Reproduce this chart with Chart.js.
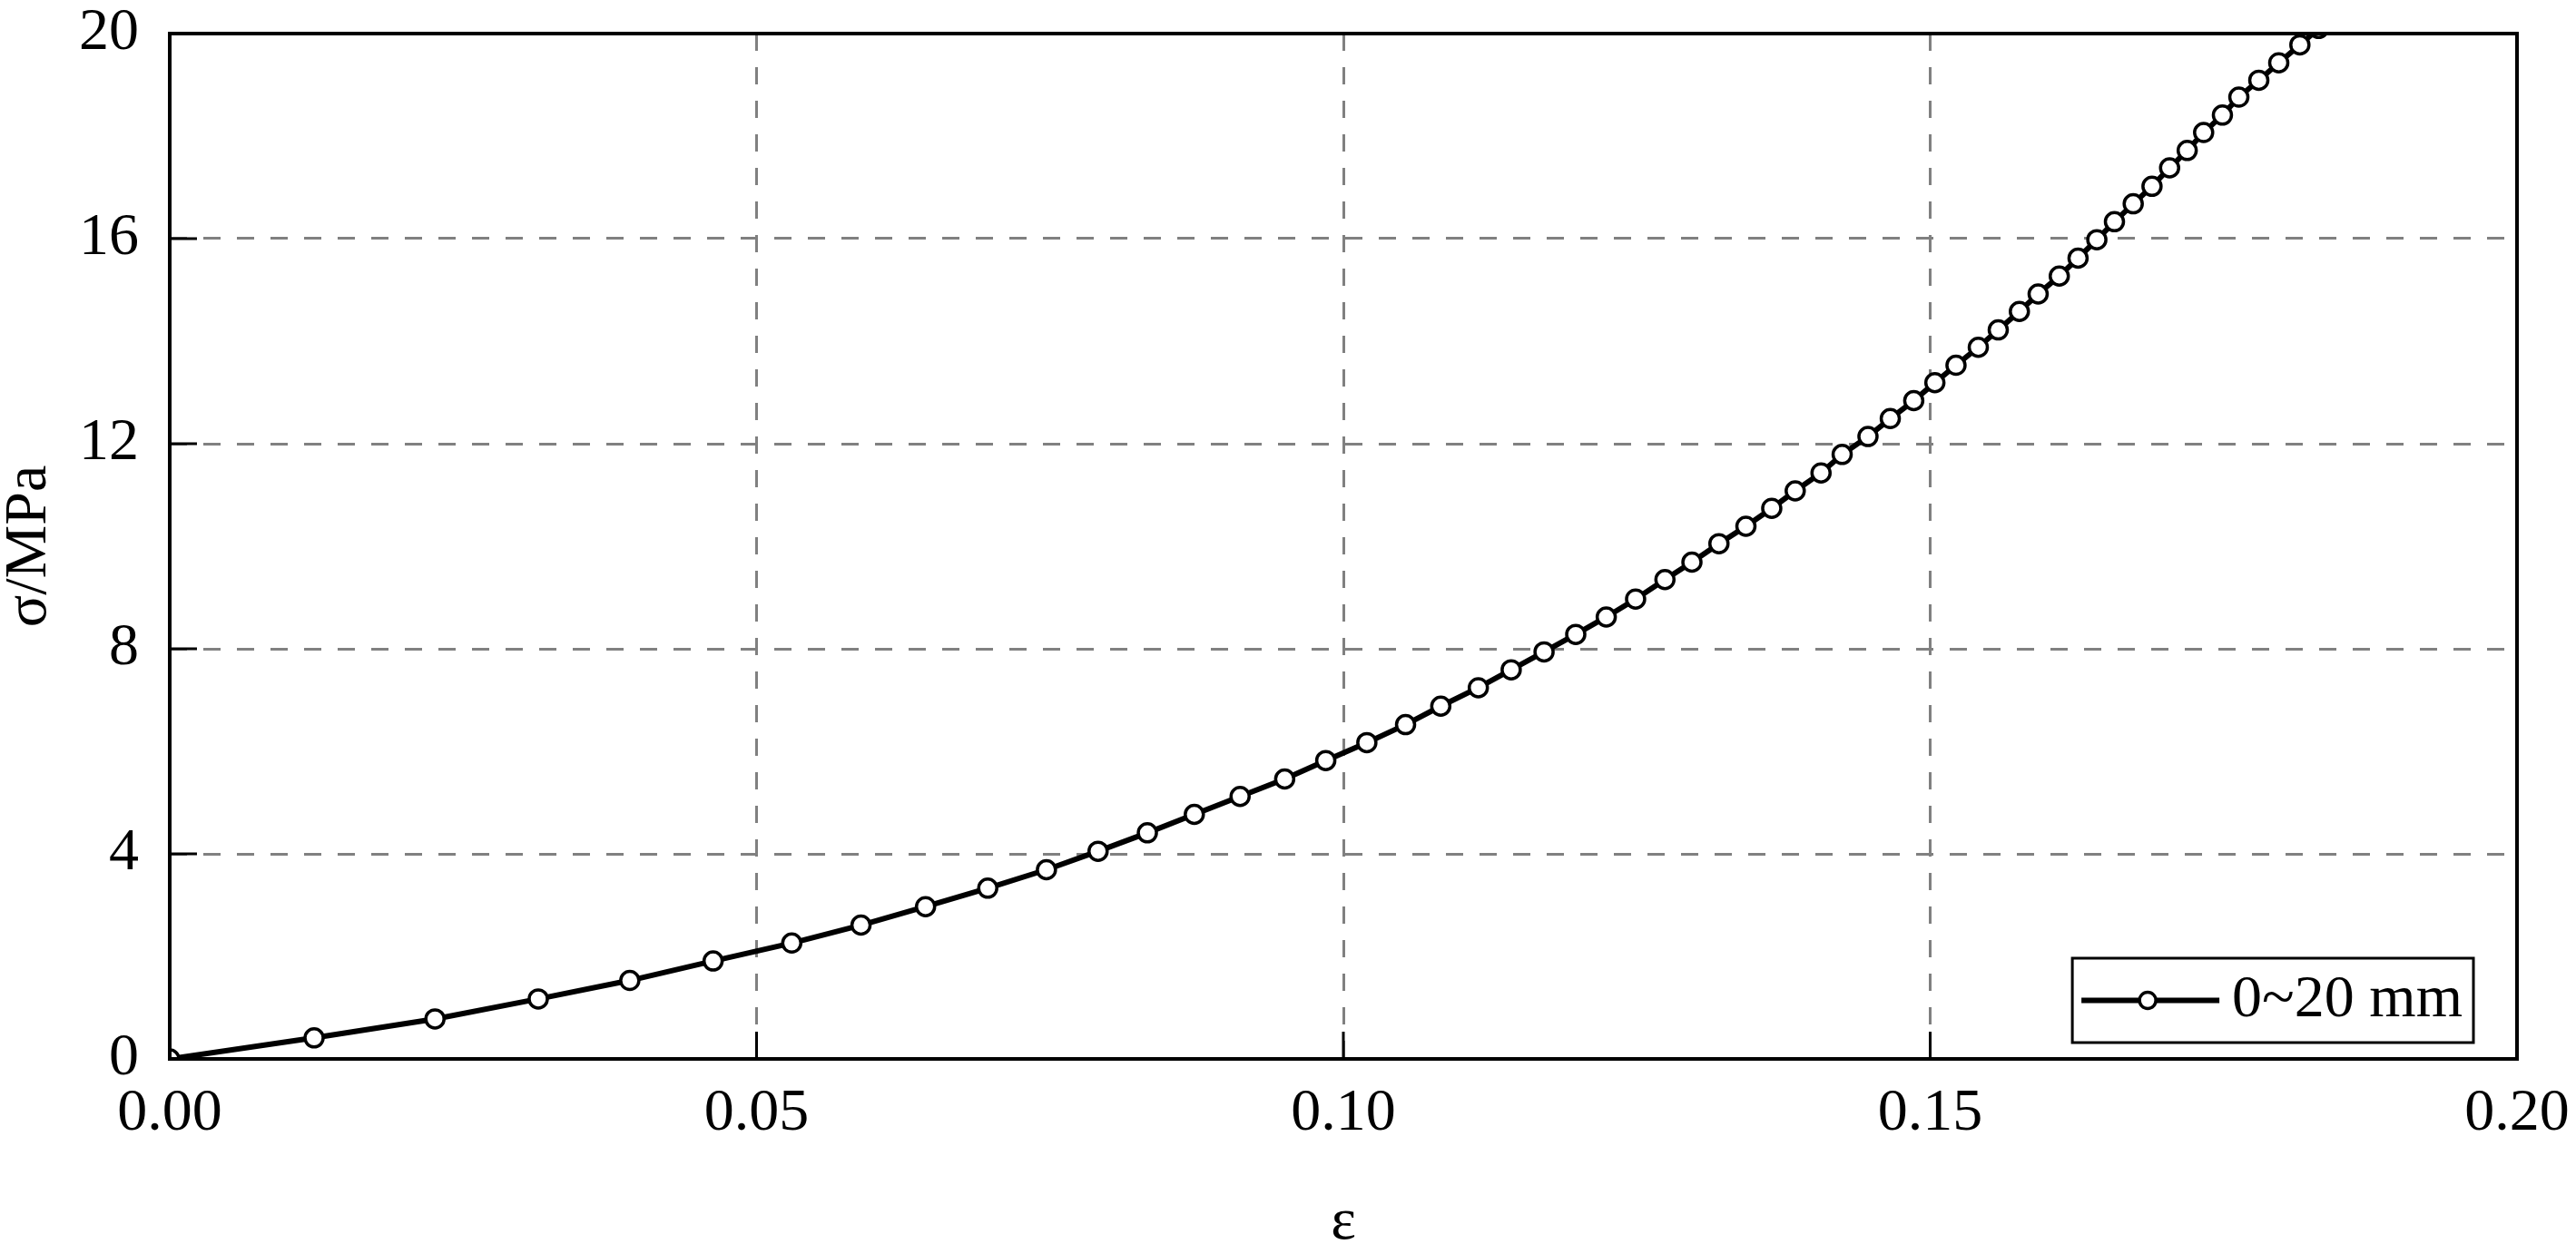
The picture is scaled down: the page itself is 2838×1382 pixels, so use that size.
<!DOCTYPE html>
<html>
<head>
<meta charset="utf-8">
<script src="https://cdn.jsdelivr.net/npm/chart.js@4.4.1/dist/chart.umd.min.js"></script>
<style>
  html, body { margin: 0; padding: 0; background: #fff; }
  #wrap { width: 2838px; height: 1382px; }
</style>
</head>
<body>
<div id="wrap"><canvas id="chart" width="2838" height="1382"></canvas></div>
<script>
// strain (ε) and stress (σ, MPa)
const strain = [0, 0.0123, 0.0226, 0.0314, 0.0392, 0.0463, 0.0530, 0.0589, 0.0644, 0.0697,
    0.0747, 0.0791, 0.0833, 0.0873, 0.0912, 0.0950, 0.0985, 0.1020, 0.1053, 0.1083,
    0.1115, 0.1143, 0.1171, 0.1198, 0.1224, 0.1249, 0.1274, 0.1297, 0.1320, 0.1343,
    0.1365, 0.1385, 0.1407, 0.1425, 0.1447, 0.1466, 0.1486, 0.1504, 0.1522, 0.1541,
    0.1558, 0.1576, 0.1592, 0.1610, 0.1626, 0.1642, 0.1657, 0.1673, 0.1689, 0.1704,
    0.1719, 0.1733, 0.1749, 0.1763, 0.1780, 0.1797, 0.1815, 0.1831];
const stress = [0, 0.41, 0.78, 1.17, 1.53, 1.91, 2.26, 2.61, 2.97, 3.33,
    3.69, 4.05, 4.41, 4.77, 5.12, 5.46, 5.82, 6.17, 6.52, 6.88,
    7.24, 7.59, 7.94, 8.28, 8.62, 8.97, 9.35, 9.69, 10.05, 10.39,
    10.74, 11.08, 11.43, 11.79, 12.14, 12.49, 12.84, 13.19, 13.53, 13.88,
    14.22, 14.58, 14.92, 15.27, 15.62, 15.98, 16.33, 16.68, 17.02, 17.38,
    17.72, 18.07, 18.41, 18.76, 19.09, 19.43, 19.78, 20.1];
const seriesLabel = "0~20 mm";
const xTicks = [0, 0.05, 0.10, 0.15, 0.20];
const yTicks = [0, 4, 8, 12, 16, 20];
const xTitle = "ε";
const yTitle = "σ/MPa";

const FONT = '"Liberation Serif", "Times New Roman", serif';
const FONT_SIZE = 66;
const GRID_COLOR = "#808080";

// closed black frame plus inward tick marks on bottom and left
const framePlugin = {
    id: "frame",
    afterDatasetsDraw(chart) {
        const { ctx, chartArea: a, scales: { x, y } } = chart;
        ctx.save();
        ctx.strokeStyle = "#000";
        ctx.lineWidth = 3;
        ctx.beginPath();
        xTicks.forEach(v => {
            const px = x.getPixelForValue(v);
            ctx.moveTo(px, a.bottom);
            ctx.lineTo(px, a.bottom - 30);
        });
        yTicks.forEach(v => {
            const py = y.getPixelForValue(v);
            ctx.moveTo(a.left, py);
            ctx.lineTo(a.left + 30, py);
        });
        ctx.stroke();
        ctx.lineWidth = 4;
        ctx.strokeRect(a.left, a.top, a.right - a.left, a.bottom - a.top);
        ctx.restore();
    }
};

// boxed legend in the lower right corner of the plot
const legendPlugin = {
    id: "boxLegend",
    afterDraw(chart) {
        const { ctx, chartArea: a } = chart;
        const ds = chart.data.datasets[0];
        ctx.save();
        ctx.font = `${FONT_SIZE}px ${FONT}`;
        const tw = ctx.measureText(ds.label).width;
        const w = 178 + tw + 10;
        const h = 93;
        const right = a.right - 48;
        const bottom = a.bottom - 18;
        const left = right - w;
        const top = bottom - h;
        const cy = top + h / 2;
        ctx.fillStyle = "#fff";
        ctx.fillRect(left, top, w, h);
        ctx.strokeStyle = "#000";
        ctx.lineWidth = 3;
        ctx.strokeRect(left, top, w, h);
        ctx.lineWidth = ds.borderWidth;
        ctx.beginPath();
        ctx.moveTo(left + 10, cy);
        ctx.lineTo(left + 162, cy);
        ctx.stroke();
        ctx.lineWidth = ds.pointBorderWidth;
        ctx.beginPath();
        ctx.arc(left + 83, cy, 9, 0, Math.PI * 2);
        ctx.fill();
        ctx.stroke();
        ctx.fillStyle = "#000";
        ctx.textAlign = "left";
        ctx.textBaseline = "middle";
        ctx.fillText(ds.label, left + 176, cy);
        ctx.restore();
    }
};

function initChart() {
    const ctx = document.getElementById("chart").getContext("2d");
    new Chart(ctx, {
        type: "scatter",
        data: {
            datasets: [{
                label: seriesLabel,
                data: strain.map((e, i) => ({ x: e, y: stress[i] })),
                showLine: true,
                borderColor: "#000",
                borderWidth: 6,
                pointRadius: 10,
                pointBorderWidth: 3.5,
                pointBackgroundColor: "#fff",
                pointBorderColor: "#000",
                tension: 0,
                clip: 0
            }]
        },
        options: {
            responsive: false,
            devicePixelRatio: 1,
            animation: false,
            events: [],
            layout: { padding: { top: 37, right: 65, left: 0, bottom: 0 } },
            plugins: {
                legend: { display: false },
                tooltip: { enabled: false }
            },
            scales: {
                x: {
                    type: "linear",
                    min: 0,
                    max: 0.2,
                    afterBuildTicks: s => { s.ticks = xTicks.map(v => ({ value: v })); },
                    afterFit: s => {
                        s.height = 215;
                        s.paddingLeft = 0;
                        s.paddingRight = 0;
                    },
                    grid: { color: GRID_COLOR, lineWidth: 3, drawTicks: false },
                    border: { display: false, dash: [19, 18] },
                    ticks: {
                        color: "#000",
                        padding: 28,
                        font: { family: FONT, size: FONT_SIZE, lineHeight: 1 },
                        callback: v => v.toFixed(2)
                    },
                    title: {
                        display: true,
                        text: xTitle,
                        color: "#000",
                        padding: { top: 0, bottom: 1 },
                        font: { family: FONT, size: FONT_SIZE, lineHeight: 1 }
                    }
                },
                y: {
                    type: "linear",
                    min: 0,
                    max: 20,
                    afterBuildTicks: s => { s.ticks = yTicks.map(v => ({ value: v })); },
                    afterFit: s => {
                        s.width = 187;
                        s.paddingTop = 0;
                        s.paddingBottom = 0;
                    },
                    grid: { color: GRID_COLOR, lineWidth: 3, drawTicks: false },
                    border: { display: false, dash: [19, 18] },
                    ticks: {
                        color: "#000",
                        padding: 34,
                        font: { family: FONT, size: FONT_SIZE, lineHeight: 1 }
                    },
                    title: {
                        display: true,
                        text: yTitle,
                        color: "#000",
                        padding: { top: 0, bottom: 0 },
                        font: { family: FONT, size: FONT_SIZE, lineHeight: 1 }
                    }
                }
            }
        },
        plugins: [framePlugin, legendPlugin]
    });
}

document.addEventListener("DOMContentLoaded", initChart);
</script>
</body>
</html>
